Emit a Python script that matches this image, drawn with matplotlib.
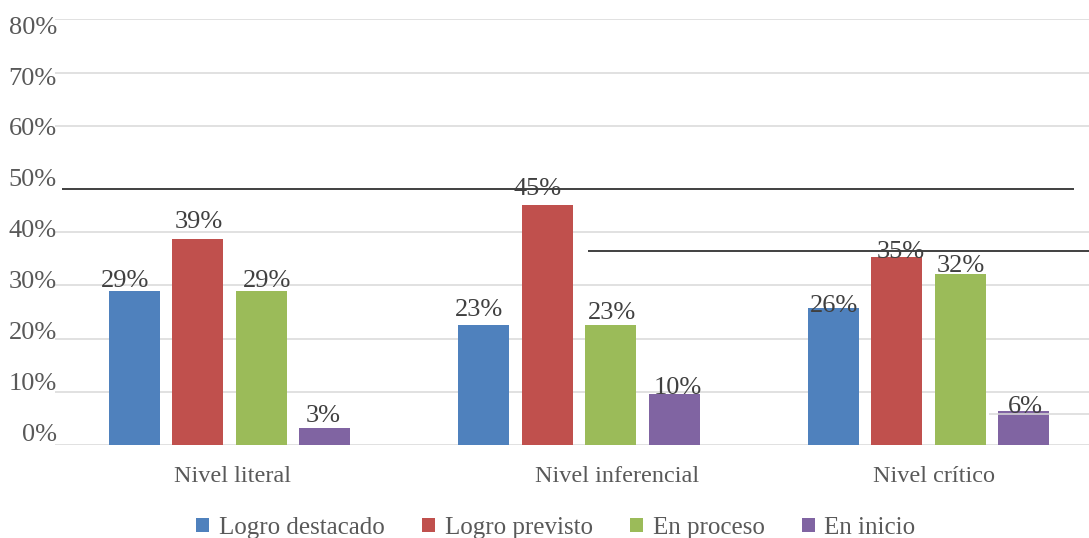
import matplotlib
matplotlib.use("Agg")
import matplotlib.pyplot as plt
from matplotlib.patches import Patch
import numpy as np

# ── datos ──
categorias = ["Nivel literal", "Nivel inferencial", "Nivel crítico"]
series = ["Logro destacado", "Logro previsto", "En proceso", "En inicio"]
logro_destacado = [28.9, 22.6, 25.8]
logro_previsto = [38.8, 45.1, 35.4]
en_proceso = [28.9, 22.6, 32.1]
en_inicio = [3.2, 9.6, 6.4]
etiquetas_y = ["0%", "10%", "20%", "30%", "40%", "50%", "60%", "70%", "80%"]

# líneas negras sueltas que aparecen en la imagen (nivel en %)
lineas_negras = [48.1, 36.5]

colores = ["#4F81BD", "#C0504D", "#9BBB59", "#8064A2"]
TXT = "#595959"
FUENTE = "Liberation Serif"

# ── geometría en píxeles (figura 1089x538 a 100 dpi) ──
W, H = 1089, 538
PX = 72 / 100  # puntos por píxel
grupo_px = 349.6
centro0_px = 229.3
x_izq_px, x_der_px = 54.5, 1089
y_base_px, y_top_px = 445, 19.4

fig = plt.figure(figsize=(W / 100, H / 100), dpi=100)
ax = fig.add_axes([x_izq_px / W, (H - y_base_px) / H,
                   (x_der_px - x_izq_px) / W, (y_base_px - y_top_px) / H])

def px2x(p):
    return (p - centro0_px) / grupo_px

x = np.arange(len(categorias))
ancho = 51 / grupo_px
paso = 63.5 / grupo_px
valores = [logro_destacado, logro_previsto, en_proceso, en_inicio]

# ajustes finos de etiquetas (dx, dy en píxeles) para imitar la imagen
dx_lab = [[-9, -5, 1], [1, -10, 4.5], [6, 1, 0.5], [-1, 3.5, 2]]
dy_lab = [[4, 9, -4], [11, 10, -1], [4, 6, 2], [6, 0, -2]]

ax.set_xlim(-0.5, px2x(x_der_px))
ax.set_ylim(0, 80)

# rejilla (la de 50% no se ve en el original)
for v in [0, 10, 20, 30, 40, 60, 70, 80]:
    ax.axhline(v, color="#d9d9d9", lw=1.1, zorder=0)

for i, (vals, col) in enumerate(zip(valores, colores)):
    pos = x + (i - 1.5) * paso
    ax.bar(pos, vals, width=ancho, color=col, zorder=2)
    for j, (p, v) in enumerate(zip(pos, vals)):
        ax.annotate(f"{round(v)}%", xy=(p, v),
                    xytext=(dx_lab[i][j] * PX, dy_lab[i][j] * PX),
                    textcoords="offset points", ha="center", va="baseline",
                    fontsize=19, family=FUENTE, color="#404040", zorder=4)

# líneas negras
ax.hlines(lineas_negras[0], px2x(62), px2x(1074), color="#404040", lw=1.4, zorder=3)
ax.hlines(lineas_negras[1], px2x(588), px2x(1089), color="#404040", lw=1.4, zorder=3)
ax.hlines(5.9, px2x(989), px2x(1089), color="#d9d9d9", lw=1.1, zorder=3)

# etiquetas del eje y (desplazadas sobre la rejilla como en el original)
pos_y = np.linspace(2.44, 78.9, len(etiquetas_y))
for t, yy in zip(etiquetas_y, pos_y):
    ax.text(2.5 / (x_der_px - x_izq_px), yy, t, transform=ax.get_yaxis_transform(),
            ha="right", va="center_baseline", fontsize=19, family=FUENTE, color=TXT)

# categorías
pos_cat = [px2x(232), px2x(617.5), px2x(934)]
ax.set_xticks(pos_cat, categorias)
ax.tick_params(axis="x", length=0, pad=15, labelsize=17.5, labelcolor=TXT)
for lab in ax.get_xticklabels():
    lab.set_family(FUENTE)
ax.set_yticks([])

for s in ax.spines.values():
    s.set_visible(False)

handles = [Patch(facecolor=c, edgecolor="none") for c in colores]
fig.legend(handles, series, loc="center", bbox_to_anchor=(556 / W, 1 - 528 / H),
           ncol=4, frameon=False, handlelength=0.5, handleheight=0.5,
           handletextpad=0.4, columnspacing=1.5,
           prop={"family": FUENTE, "size": 18}, labelcolor=TXT)

fig.savefig("out.png", dpi=100)
